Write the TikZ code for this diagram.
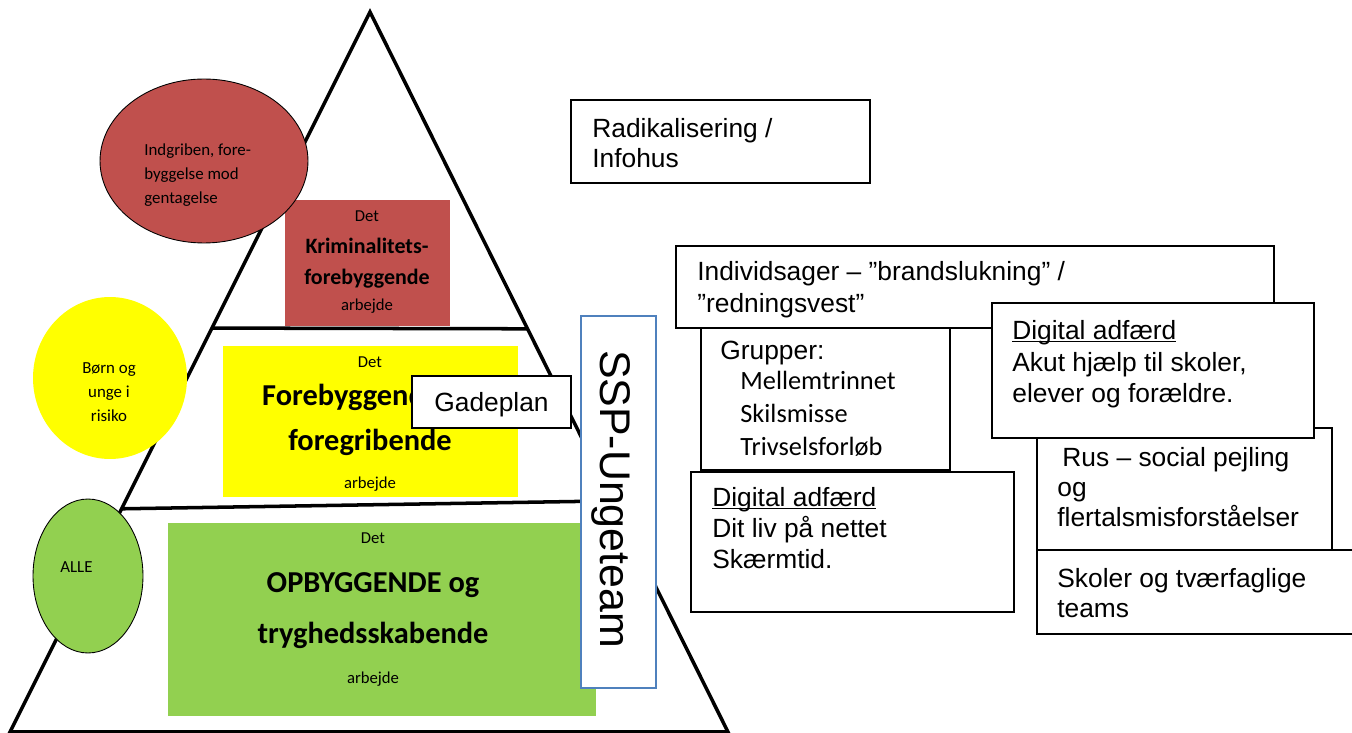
\documentclass[tikz,border=0pt]{standalone}
\usepackage{fontspec}
\setmainfont{Carlito}
\newfontfamily\arialfont{Liberation Sans}
\usetikzlibrary{calc,fit,shapes.geometric}
\definecolor{krim}{RGB}{192,80,77}
\definecolor{foreb}{RGB}{255,255,0}
\definecolor{opbyg}{RGB}{146,208,80}
\definecolor{sspblue}{RGB}{79,129,189}
\newcommand{\ulhead}[1]{\underline{\raisebox{0pt}[\height][0pt]{#1}}}
\tikzset{
  pyr/.style={draw=black, line width=2pt},
  lvlbox/.style={inner sep=0, outer sep=0, draw=none},
  ell/.style={ellipse, draw=black, line width=0.5pt, inner sep=0},
  txtbox/.style={draw=black, line width=1.1pt, fill=white, inner sep=0, outer sep=0},
  sspbox/.style={draw=sspblue, line width=1.4pt, fill=white, inner sep=0, outer sep=0},
  smalltxt/.style={inner sep=0, font=\fontsize{9.5}{11}\selectfont, text height=6.7pt, text depth=0pt},
  elltxt/.style={inner sep=0, font=\fontsize{9.6}{11}\selectfont, text height=6.7pt, text depth=0pt},
  midtxt/.style={inner sep=0, font=\bfseries\fontsize{12.5}{15}\selectfont, text height=8.8pt, text depth=0pt},
  bigtxt/.style={inner sep=0, font=\bfseries\fontsize{17.3}{20}\selectfont, text height=12pt, text depth=0pt},
  artxt/.style={inner sep=0, anchor=west, font=\arialfont\fontsize{15}{17}\selectfont, text height=10.5pt, text depth=0pt},
  listtxt/.style={inner sep=0, anchor=west, font=\fontsize{15}{17}\selectfont, text height=10.5pt, text depth=0pt},
  ssptxt/.style={inner sep=0, font=\arialfont\fontsize{24.4}{28}\selectfont, text height=17.5pt, text depth=0pt}
}

\begin{document}
\begin{tikzpicture}[x=0.02cm, y=-0.02cm]
\useasboundingbox (0,0) rectangle (1352,733);

% pyramiden
\coordinate (apex) at (370,12);
\coordinate (bl) at (10,732);
\coordinate (br) at (728,732);
\coordinate (d1l) at ($(apex)!0.439!(bl)$);
\coordinate (d1r) at ($(apex)!0.440!(br)$);
\coordinate (d2l) at ($(apex)!0.690!(bl)$);
\coordinate (d2r) at ($(apex)!0.679!(br)$);
\draw[pyr] (apex) -- (bl) -- (br) -- cycle;
\draw[pyr] (d1l) -- (d1r);
\draw[pyr] (d2l) -- (d2r);

% niveauer
\node[lvlbox, fill=krim, fit={(285,200)(450,326)}] (krimbox) {};
\node[smalltxt] (krim1) at (367,216) {Det};
\node[midtxt] (krim2) at (367,246) {Kriminalitets-};
\node[midtxt] (krim3) at (367,277) {forebyggende};
\node[smalltxt] (krim4) at (367,305) {arbejde};

\node[lvlbox, fill=foreb, fit={(223,346)(518,497)}] (forebbox) {};
\node[smalltxt] (foreb1) at (370,362) {Det};
\node[bigtxt] (foreb2) at (370,395) {Forebyggende og};
\node[bigtxt] (foreb3) at (370,440) {foregribende};
\node[smalltxt] (foreb4) at (370,483) {arbejde};

\node[lvlbox, fill=opbyg, fit={(168,523)(596,716)}] (opbygbox) {};
\node[smalltxt] (opbyg1) at (373,538) {Det};
\node[bigtxt] (opbyg2) at (373,582) {OPBYGGENDE og};
\node[bigtxt] (opbyg3) at (373,633) {tryghedsskabende};
\node[smalltxt] (opbyg4) at (373,678) {arbejde};

% maalgrupper
\node[ell, fill=krim, minimum width=4.16cm, minimum height=3.28cm] (indgriben) at (204,161) {};
\foreach [count=\i] \t in {{Indgriben, fore-}, byggelse mod, gentagelse}
  \node[elltxt, anchor=west] (indg\i) at (144, 126+24*\i) {\t};

\node[ell, draw=none, fill=foreb, minimum width=3.08cm, minimum height=3.24cm] (risiko) at (110,378) {};
\foreach [count=\i] \t in {Børn og, unge i, risiko}
  \node[elltxt] (risiko\i) at (109, 344+24*\i) {\t};

\node[ell, fill=opbyg, minimum width=2.2cm, minimum height=3.08cm] (alle) at (88,576) {};
\node[elltxt, anchor=west] (alletxt) at (60,567) {ALLE};

\node[txtbox, fit={(412,376)(571,428)}] (gade) {};
\node[artxt, anchor=center] (gadetxt) at (gade.center) {Gadeplan};

\node[sspbox, fit={(581,316)(656,688)}] (ssp) {};
\node[ssptxt, rotate=-90] (ssptxt) at (616,499) {SSP-Ungeteam};

% indsatser
\node[txtbox, fit={(571,100)(870,183)}] (radik) {};
\foreach [count=\i] \t in {Radikalisering /, Infohus}
  \node[artxt] (radik\i) at (592, 98+30*\i) {\t};

\node[txtbox, fit={(701,320)(950,470)}] (grupper) {};
\node[artxt] (gruppertxt) at (720,350) {Grupper:};
\foreach [count=\i] \t in {Mellemtrinnet, Skilsmisse, Trivselsforløb}
  \node[listtxt] (gr\i) at (740, 347+33*\i) {\t};

\node[txtbox, fit={(676,246)(1274,328)}] (individ) {};
\foreach [count=\i] \t in {Individsager – ”brandslukning” /, ”redningsvest”}
  \node[artxt] (individ\i) at (697, 239+32*\i) {\t};

\node[txtbox, fit={(1037,428)(1332,550)}] (rus) {};
\node[artxt] (rus1) at (1062,457) {Rus – social pejling};
\node[artxt] (rus2) at (1057,487) {og};
\node[artxt] (rus3) at (1057,517) {flertalsmisforståelser};

\node[txtbox, fit={(1037,550)(1362,634)}] (skoler) {};
\foreach [count=\i] \t in {Skoler og tværfaglige, teams}
  \node[artxt] (skoler\i) at (1057, 548+30*\i) {\t};

\node[txtbox, fit={(992,303)(1314,438)}] (digakut) {};
\node[artxt] (digakut1) at (1012,330) {\ulhead{Digital adfærd}};
\foreach [count=\i] \t in {{Akut hjælp til skoler,}, elever og forældre.}
  \node[artxt] (digakut\the\numexpr\i+1\relax) at (1012, 331+31*\i) {\t};

\node[txtbox, fit={(691,472)(1014,612)}] (dignet) {};
\node[artxt] (dignet1) at (712,497) {\ulhead{Digital adfærd}};
\foreach [count=\i] \t in {Dit liv på nettet, Skærmtid.}
  \node[artxt] (dignet\the\numexpr\i+1\relax) at (712, 497+31*\i) {\t};

\end{tikzpicture}
\end{document}
